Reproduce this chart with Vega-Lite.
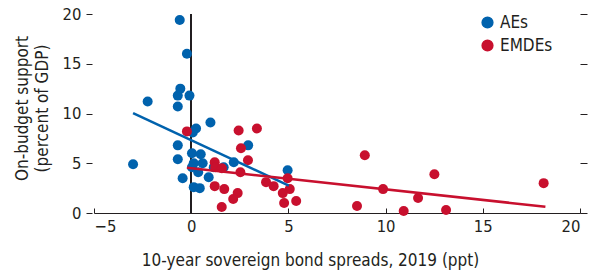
{
  "$schema": "https://vega.github.io/schema/vega-lite/v6.json",
  "autosize": {"type": "none"},
  "width": 486,
  "height": 199,
  "padding": {"left": 94, "top": 14, "right": 11, "bottom": 60},
  "config": {
    "font": "Liberation Sans Narrow, DejaVu Sans Condensed, sans-serif",
    "view": {"stroke": null},
    "axis": {"labelFont": "Liberation Sans Narrow, DejaVu Sans Condensed, sans-serif", "titleFont": "Liberation Sans Narrow, DejaVu Sans Condensed, sans-serif", "labelColor": "#231f20", "titleColor": "#231f20", "tickColor": "#231f20", "domainColor": "#231f20", "grid": false, "labelFontSize": 16.5, "titleFontSize": 17, "titleFontWeight": "normal"},
    "legend": {"labelFont": "Liberation Sans Narrow, DejaVu Sans Condensed, sans-serif", "labelFontSize": 17, "labelColor": "#231f20"}
  },
  "datasets": {
    "pts": [
      {"spread": -0.59, "support": 19.4, "group": "AEs"},
      {"spread": -0.22, "support": 16.0, "group": "AEs"},
      {"spread": -0.56, "support": 12.5, "group": "AEs"},
      {"spread": -0.69, "support": 11.8, "group": "AEs"},
      {"spread": -0.09, "support": 11.8, "group": "AEs"},
      {"spread": -2.24, "support": 11.2, "group": "AEs"},
      {"spread": -0.69, "support": 10.7, "group": "AEs"},
      {"spread": 0.99, "support": 9.1, "group": "AEs"},
      {"spread": 0.25, "support": 8.5, "group": "AEs"},
      {"spread": 0.08, "support": 8.1, "group": "AEs"},
      {"spread": -0.69, "support": 6.8, "group": "AEs"},
      {"spread": -0.69, "support": 5.4, "group": "AEs"},
      {"spread": -2.99, "support": 4.9, "group": "AEs"},
      {"spread": 0.04, "support": 6.0, "group": "AEs"},
      {"spread": 0.49, "support": 5.9, "group": "AEs"},
      {"spread": 0.13, "support": 5.0, "group": "AEs"},
      {"spread": 0.59, "support": 5.0, "group": "AEs"},
      {"spread": 0.36, "support": 4.1, "group": "AEs"},
      {"spread": 0.04, "support": 4.6, "group": "AEs"},
      {"spread": -0.44, "support": 3.5, "group": "AEs"},
      {"spread": 0.13, "support": 2.6, "group": "AEs"},
      {"spread": 0.44, "support": 2.5, "group": "AEs"},
      {"spread": 0.9, "support": 3.6, "group": "AEs"},
      {"spread": 1.16, "support": 4.6, "group": "AEs"},
      {"spread": 1.67, "support": 4.6, "group": "AEs"},
      {"spread": 2.19, "support": 5.1, "group": "AEs"},
      {"spread": 2.93, "support": 6.8, "group": "AEs"},
      {"spread": 4.96, "support": 4.3, "group": "AEs"},
      {"spread": -0.22, "support": 8.2, "group": "EMDEs"},
      {"spread": 2.44, "support": 8.3, "group": "EMDEs"},
      {"spread": 3.38, "support": 8.5, "group": "EMDEs"},
      {"spread": 2.56, "support": 6.5, "group": "EMDEs"},
      {"spread": 2.92, "support": 5.3, "group": "EMDEs"},
      {"spread": 1.21, "support": 5.1, "group": "EMDEs"},
      {"spread": 1.24, "support": 4.6, "group": "EMDEs"},
      {"spread": 1.58, "support": 4.5, "group": "EMDEs"},
      {"spread": 2.53, "support": 4.1, "group": "EMDEs"},
      {"spread": 3.85, "support": 3.1, "group": "EMDEs"},
      {"spread": 4.24, "support": 2.7, "group": "EMDEs"},
      {"spread": 4.96, "support": 3.5, "group": "EMDEs"},
      {"spread": 5.07, "support": 2.4, "group": "EMDEs"},
      {"spread": 4.71, "support": 2.0, "group": "EMDEs"},
      {"spread": 4.78, "support": 1.0, "group": "EMDEs"},
      {"spread": 5.4, "support": 1.2, "group": "EMDEs"},
      {"spread": 1.21, "support": 2.7, "group": "EMDEs"},
      {"spread": 1.7, "support": 2.4, "group": "EMDEs"},
      {"spread": 2.39, "support": 2.0, "group": "EMDEs"},
      {"spread": 2.16, "support": 1.4, "group": "EMDEs"},
      {"spread": 1.57, "support": 0.6, "group": "EMDEs"},
      {"spread": 8.93, "support": 5.8, "group": "EMDEs"},
      {"spread": 12.51, "support": 3.9, "group": "EMDEs"},
      {"spread": 18.13, "support": 3.0, "group": "EMDEs"},
      {"spread": 9.87, "support": 2.4, "group": "EMDEs"},
      {"spread": 11.67, "support": 1.5, "group": "EMDEs"},
      {"spread": 8.53, "support": 0.7, "group": "EMDEs"},
      {"spread": 10.93, "support": 0.2, "group": "EMDEs"},
      {"spread": 13.11, "support": 0.3, "group": "EMDEs"}
    ],
    "fit": [
      {"spread": -2.99, "support": 10.03, "group": "AEs"},
      {"spread": 5.02, "support": 2.75, "group": "AEs"},
      {"spread": -0.22, "support": 4.55, "group": "EMDEs"},
      {"spread": 18.22, "support": 0.63, "group": "EMDEs"}
    ]
  },
  "data": {"name": "pts"},
  "resolve": {"axis": {"y": "independent", "x": "independent"}},
  "layer": [
    {
      "mark": {"type": "rule", "color": "#231f20", "strokeWidth": 1},
      "encoding": {
        "x": {"datum": 0, "type": "quantitative", "scale": {"domain": [-5, 20], "nice": false}, "axis": null},
        "y": {"datum": 0, "type": "quantitative", "scale": {"domain": [0, 20], "nice": false}, "axis": {"orient": "right", "labels": false, "domain": false, "title": null, "values": [0, 5, 10, 15, 20], "tickSize": 7, "offset": 0}},
        "y2": {"datum": 20}
      }
    },
    {
      "mark": {"type": "circle", "size": 100, "opacity": 1},
      "encoding": {
        "x": {"field": "spread", "type": "quantitative", "scale": {"domain": [-5, 20], "nice": false}, "axis": {"values": [-5, 0, 5, 10, 15, 20], "tickSize": -5, "labelPadding": 10, "domainWidth": 1, "title": "10-year sovereign bond spreads, 2019 (ppt)", "titleX": 216, "titleY": 52, "titleAlign": "center", "titleBaseline": "alphabetic"}},
        "y": {"field": "support", "type": "quantitative", "scale": {"domain": [0, 20], "nice": false}, "axis": {"values": [0, 5, 10, 15, 20], "domain": false, "tickSize": 6, "offset": 2, "labelPadding": 5, "title": ["On-budget support", "(percent of GDP)"], "titleX": -65, "titleY": 94, "titleAlign": "center", "titleBaseline": "alphabetic", "titleAngle": -90, "titleLineHeight": 20}},
        "color": {"field": "group", "type": "nominal", "scale": {"domain": ["AEs", "EMDEs"], "range": ["#0062ad", "#c8102e"]}, "legend": {"title": null, "orient": "none", "legendX": 385, "legendY": 0, "symbolType": "circle", "symbolSize": 115, "symbolOpacity": 1, "rowPadding": 5, "labelOffset": 4, "padding": 0}}
      }
    },
    {
      "data": {"name": "fit"},
      "mark": {"type": "line", "strokeWidth": 2.5},
      "encoding": {
        "x": {"field": "spread", "type": "quantitative", "axis": null},
        "y": {"field": "support", "type": "quantitative", "axis": null},
        "color": {"field": "group", "type": "nominal", "legend": null},
        "detail": {"field": "group"}
      }
    }
  ]
}
